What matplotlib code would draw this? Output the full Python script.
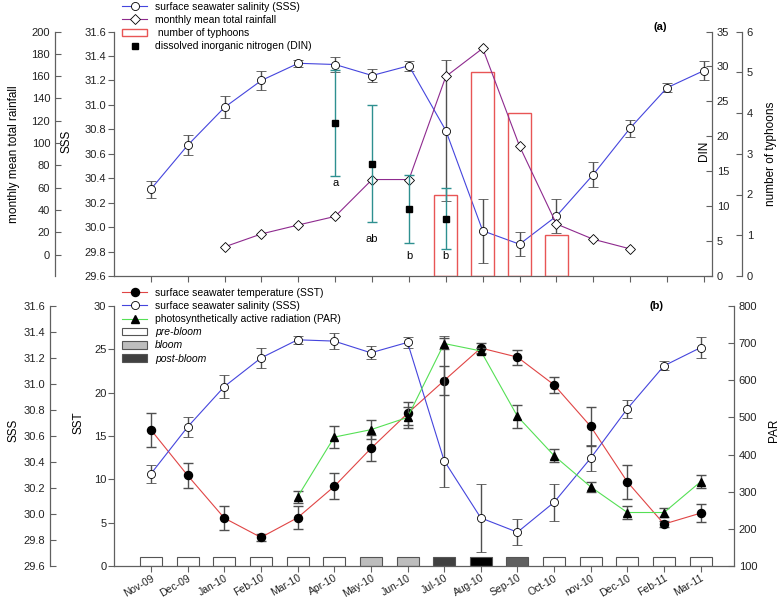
import numpy as np
import matplotlib
matplotlib.use('Agg')
import matplotlib.pyplot as plt
from matplotlib.lines import Line2D
from matplotlib.patches import Patch

plt.rcParams['font.family'] = ['Liberation Sans', 'DejaVu Sans']
plt.rcParams['font.size'] = 8

# ---- data ----
months = ['Nov-09', 'Dec-09', 'Jan-10', 'Feb-10', 'Mar-10', 'Apr-10', 'May-10', 'Jun-10',
          'Jul-10', 'Aug-10', 'Sep-10', 'Oct-10', 'nov-10', 'Dec-10', 'Feb-11', 'Mar-11']

sss = [30.31, 30.67, 30.98, 31.20, 31.34, 31.33, 31.24, 31.32,
       30.79, 29.97, 29.86, 30.09, 30.43, 30.81, 31.14, 31.28]
sss_err = [0.07, 0.08, 0.09, 0.08, 0.03, 0.06, 0.05, 0.04,
           0.58, 0.26, 0.10, 0.14, 0.10, 0.07, 0.035, 0.08]
# panel (b) shows Jul-10 SSS point lower than panel (a)
sss_b = [30.31, 30.67, 30.98, 31.20, 31.34, 31.33, 31.24, 31.32,
         30.41, 29.97, 29.86, 30.09, 30.43, 30.81, 31.14, 31.28]

rain = [np.nan, np.nan, 7.1, 18.7, 26.7, 34.4, 67.4, 67.4,
        159.7, 184.9, 97.3, 27.6, 13.9, 5.3, np.nan, np.nan]

typhoons = [0, 0, 0, 0, 0, 0, 0, 0, 2, 5, 4, 1, 0, 0, 0, 0]

din_months = ['Apr-10', 'May-10', 'Jun-10', 'Jul-10']
din = [21.9, 16.1, 9.6, 8.2]
din_err = [7.6, 8.4, 4.9, 4.4]
din_letters = ['a', 'ab', 'b', 'b']

sst = [15.7, 10.45, 5.53, 3.3, 5.57, 9.18, 13.56, 17.6,
       21.4, 25.15, 24.1, 20.9, 16.1, 9.7, 4.84, 6.1]
sst_err = [2.0, 1.45, 1.4, 0.4, 1.3, 1.5, 1.5, 1.3,
           1.7, 0.6, 0.85, 0.95, 2.3, 2.0, 0.3, 1.05]

par = [np.nan, np.nan, np.nan, np.nan, 286, 447, 467, 500,
       699, 679, 503, 397, 313, 244, 244, 327]
par_err = [np.nan, np.nan, np.nan, np.nan, 17, 30, 26, 28,
           15, 8, 31, 17, 13, 17, 11, 18]

phase = ['pre', 'pre', 'pre', 'pre', 'pre', 'pre', 'bloom', 'bloom',
         'post1', 'post2', 'post3', 'pre', 'pre', 'pre', 'pre', 'pre']

# ---- styles ----
blue = '#4545DD'
purple = '#8E2A8E'
red = '#E04545'
green = '#55E055'
teal = '#2E9090'
ebar = '#505050'
spc = '#606060'
phase_col = {'pre': 'white', 'bloom': '#BDBDBD', 'post1': '#404040',
             'post2': '#000000', 'post3': '#606060'}
ms_c = 5.8

x = np.arange(len(months))
din_x = [months.index(m) for m in din_months]


def style_axis(ax, side, direction, pad=3.5):
    for s in ax.spines.values():
        s.set_visible(False)
    ax.spines[side].set_visible(True)
    ax.spines[side].set_color(spc)
    ax.spines[side].set_linewidth(0.9)
    ax.tick_params(axis='y', direction=direction, length=4, width=0.8, pad=pad,
                   color=spc, labelsize=8, labelcolor='#222222')


fig = plt.figure(figsize=(7.84, 5.98), dpi=100)

# ================= panel (a) =================
ax1 = fig.add_axes([114/784, 1-276/598, (712-114)/784, (276-31.5)/598])
style_axis(ax1, 'left', 'out', pad=1.5)
ax1.spines['bottom'].set_visible(True)
ax1.spines['bottom'].set_color(spc)
ax1.spines['bottom'].set_linewidth(0.9)
ax1.tick_params(axis='x', direction='out', length=4, width=0.8, color=spc)
ax1.set_xticks(x)
ax1.set_xticklabels([])
ax1.set_xlim(-1.0, 15.22)
ax1.set_ylim(29.6, 31.6)
ax1.set_yticks(np.arange(29.6, 31.61, 0.2))
ax1.yaxis.set_major_formatter(matplotlib.ticker.FormatStrFormatter('%.1f'))
ax1.set_ylabel('SSS', fontsize=8.5)
ax1.yaxis.set_label_coords(-0.0686, 0.55)

ax_ty = ax1.twinx()
style_axis(ax_ty, 'right', 'in')
ax_ty.spines['right'].set_position(('axes', 1 + 30/598))
ax_ty.set_ylim(0, 6)
ax_ty.set_yticks(range(0, 7))
ax_ty.set_ylabel('number of typhoons', fontsize=8.5)
ax_ty.yaxis.set_label_coords(1.089, 0.5)
ty_idx = [i for i, t in enumerate(typhoons) if t > 0]
ax_ty.bar(x[ty_idx], [typhoons[i] for i in ty_idx], width=0.62, fill=False,
          edgecolor='#E85555', linewidth=1.0)

ax1.errorbar(x, sss, yerr=sss_err, color=blue, lw=0.8, marker='o', ms=ms_c,
             mfc='white', mec='black', mew=0.6, ecolor=ebar, elinewidth=1,
             capsize=3.3, capthick=1, zorder=3)

ax_rain = ax1.twinx()
style_axis(ax_rain, 'left', 'in')
ax_rain.yaxis.tick_left()
ax_rain.yaxis.set_label_position('left')
ax_rain.spines['left'].set_position(('axes', -59/598))
ax_rain.set_ylim(-19, 200)
ax_rain.set_yticks(range(0, 201, 20))
ax_rain.set_ylabel('monthly mean total rainfall', fontsize=8.5)
ax_rain.yaxis.set_label_coords(-0.157, 0.5)
ax_rain.plot(x, rain, color=purple, lw=0.8, marker='D', ms=5,
             mfc='white', mec='black', mew=0.6)

ax_din = ax1.twinx()
style_axis(ax_din, 'right', 'in')
ax_din.set_ylim(0, 35)
ax_din.set_yticks(range(0, 36, 5))
ax_din.set_ylabel('DIN', fontsize=8.5)
ax_din.yaxis.set_label_coords(0.977, 0.51)
ax_din.errorbar(din_x, din, yerr=din_err, fmt='s', color='black', ms=4.2,
                ecolor=teal, elinewidth=1, capsize=3.3, capthick=1)
for xi, d, e, lab, off in zip(din_x, din, din_err, din_letters, [-7, -17, -13, -7]):
    ax_din.annotate(lab, (xi, d - e), xytext=(0, off * 0.72), textcoords='offset points',
                    ha='center', va='center', fontsize=8)

ax1.text(0.913, 1.018, '(a)', transform=ax1.transAxes, fontsize=8,
         fontweight='bold', ha='center', va='center')

h_a = [Line2D([], [], color=blue, lw=0.8, marker='o', ms=ms_c, mfc='white', mec='black', mew=0.6),
       Line2D([], [], color=purple, lw=0.8, marker='D', ms=5, mfc='white', mec='black', mew=0.6),
       Patch(facecolor='white', edgecolor='#E85555', linewidth=1.0),
       Line2D([], [], ls='none', marker='s', color='black', ms=4.2)]
l_a = ['surface seawater salinity (SSS)', 'monthly mean total rainfall',
       ' number of typhoons', 'dissolved inorganic nitrogen (DIN)']
fig.legend(h_a, l_a, loc='upper left', bbox_to_anchor=(122/784, 1 - 2/598), frameon=False,
           fontsize=7.5, handlelength=2.4, handletextpad=0.8, labelspacing=0.3,
           borderpad=0, borderaxespad=0)

# ================= panel (b) =================
ax2 = fig.add_axes([114/784, 1-566/598, (734-114)/784, 260/598])
style_axis(ax2, 'left', 'out', pad=1.5)
ax2.spines['bottom'].set_visible(True)
ax2.spines['bottom'].set_color(spc)
ax2.spines['bottom'].set_linewidth(0.9)
ax2.tick_params(axis='x', direction='out', length=4, width=0.8, color=spc, pad=1)
ax2.set_xlim(-1.01, 15.91)
ax2.set_ylim(0, 30)
ax2.set_yticks(range(0, 31, 5))
ax2.set_xticks(x)
ax2.set_xticklabels(months, rotation=30, ha='right', va='top', rotation_mode='anchor',
                    fontsize=7.5, color='#222222')
ax2.set_ylabel('SST', fontsize=8.5)
ax2.yaxis.set_label_coords(-0.047, 0.55)

ax2.bar(x, 1.08, bottom=0, width=0.6, color=[phase_col[p] for p in phase],
        edgecolor='#555555', linewidth=0.8, zorder=2)
ax2.errorbar(x, sst, yerr=sst_err, color=red, lw=0.8, marker='o', ms=ms_c,
             mfc='black', mec='black', ecolor=ebar, elinewidth=1,
             capsize=3.3, capthick=1, zorder=3)

ax_s2 = ax2.twinx()
style_axis(ax_s2, 'left', 'in')
ax_s2.yaxis.tick_left()
ax_s2.yaxis.set_label_position('left')
ax_s2.spines['left'].set_position(('axes', -64/620))
ax_s2.set_ylim(29.6, 31.6)
ax_s2.set_yticks(np.arange(29.6, 31.61, 0.2))
ax_s2.yaxis.set_major_formatter(matplotlib.ticker.FormatStrFormatter('%.1f'))
ax_s2.set_ylabel('SSS', fontsize=8.5)
ax_s2.yaxis.set_label_coords(-0.152, 0.52)
lo = [b - (s - e) for b, s, e in zip(sss_b, sss, sss_err)]
hi = [(s + e) - b for b, s, e in zip(sss_b, sss, sss_err)]
ax_s2.errorbar(x, sss_b, yerr=[lo, hi], color=blue, lw=0.8, marker='o', ms=ms_c,
               mfc='white', mec='black', mew=0.6, ecolor=ebar, elinewidth=1,
               capsize=3.3, capthick=1)

ax_par = ax2.twinx()
style_axis(ax_par, 'right', 'in')
ax_par.set_ylim(100, 800)
ax_par.set_yticks(range(100, 801, 100))
ax_par.set_ylabel('PAR', fontsize=8.5)
ax_par.yaxis.set_label_coords(1.055, 0.52)
ax_par.errorbar(x, par, yerr=par_err, color=green, lw=0.8, marker='^', ms=5.5,
                mfc='black', mec='black', ecolor=ebar, elinewidth=1,
                capsize=3.3, capthick=1)

ax2.text(0.875, 1.0, '(b)', transform=ax2.transAxes, fontsize=8,
         fontweight='bold', ha='center', va='center')

h_b = [Line2D([], [], color=red, lw=0.8, marker='o', ms=ms_c, mfc='black', mec='black'),
       Line2D([], [], color=blue, lw=0.8, marker='o', ms=ms_c, mfc='white', mec='black', mew=0.6),
       Line2D([], [], color=green, lw=0.8, marker='^', ms=5.5, mfc='black', mec='black'),
       Patch(facecolor=phase_col['pre'], edgecolor='#555555', linewidth=0.8),
       Patch(facecolor=phase_col['bloom'], edgecolor='#555555', linewidth=0.8),
       Patch(facecolor=phase_col['post1'], edgecolor='#555555', linewidth=0.8)]
l_b = ['surface seawater temperature (SST)', 'surface seawater salinity (SSS)',
       'photosynthetically active radiation (PAR)', 'pre-bloom', 'bloom', 'post-bloom']
leg = fig.legend(h_b, l_b, loc='upper left', bbox_to_anchor=(122/784, 1-288/598),
                 frameon=False, fontsize=7.5, handlelength=2.4, handletextpad=0.8,
                 labelspacing=0.3, borderpad=0, borderaxespad=0)
for t in leg.get_texts()[3:]:
    t.set_style('italic')

fig.savefig('out.png', dpi=100)
